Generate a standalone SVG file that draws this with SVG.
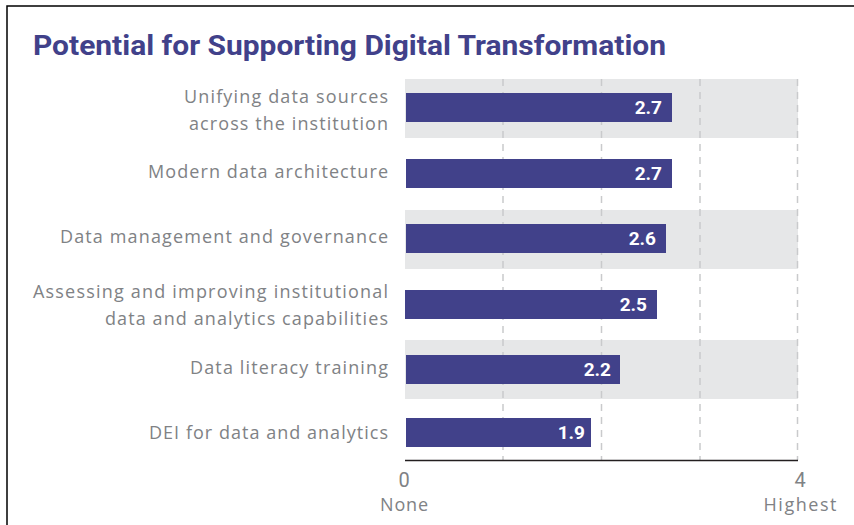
<svg xmlns="http://www.w3.org/2000/svg" width="854" height="525" viewBox="0 0 854 525">
<style>
.lbl{font-family:"Open Sans",Roboto,"Liberation Sans",sans-serif;font-size:18px;fill:#808285;text-anchor:end}
.val{font-family:Roboto,"Liberation Sans",sans-serif;font-size:19px;font-weight:bold;fill:#ffffff;text-anchor:end}
.ax{font-family:"Open Sans",Roboto,"Liberation Sans",sans-serif;font-size:18px;fill:#808285;text-anchor:middle}
.num{font-family:Roboto,"Liberation Sans",sans-serif;font-size:20px}
.band{fill:#e6e7e8}
.bar{fill:#41418a}
.grid{stroke:#c9cacc;stroke-width:1.5;stroke-dasharray:7,6;fill:none}
</style>
<rect width="854" height="525" fill="#ffffff"/>
<rect x="7" y="6" width="860" height="540" fill="none" stroke="#000" stroke-width="1.5"/>
<text x="33" y="55" font-family="Roboto,'Liberation Sans',sans-serif" font-size="28" font-weight="bold" fill="#41418a" textLength="633" lengthAdjust="spacingAndGlyphs">Potential for Supporting Digital Transformation</text>
<g id="bands">
<rect class="band" x="405" y="79" width="393" height="59"/>
<rect class="band" x="405" y="210" width="393" height="59"/>
<rect class="band" x="405" y="340" width="393" height="59"/>
</g>
<g id="connectors">
<line class="grid" x1="503" y1="79" x2="503" y2="460"/>
<line class="grid" x1="601.5" y1="79" x2="601.5" y2="460"/>
<line class="grid" x1="700" y1="79" x2="700" y2="460"/>
<line class="grid" x1="797.5" y1="79" x2="797.5" y2="460"/>
<line x1="405" y1="460.5" x2="798" y2="460.5" stroke="#231f20" stroke-width="1.5"/>
</g>
<g id="row1">
<text class="lbl" x="388" y="103" textLength="204" lengthAdjust="spacing">Unifying data sources</text>
<text class="lbl" x="388" y="130" textLength="199" lengthAdjust="spacing">across the institution</text>
<rect class="bar" x="406" y="93" width="266" height="29"/>
<text class="val" x="662" y="114">2.7</text>
</g>
<g id="row2">
<text class="lbl" x="388" y="178" textLength="240" lengthAdjust="spacing">Modern data architecture</text>
<rect class="bar" x="406" y="159" width="266" height="29"/>
<text class="val" x="662" y="180">2.7</text>
</g>
<g id="row3">
<text class="lbl" x="388" y="243" textLength="328" lengthAdjust="spacing">Data management and governance</text>
<rect class="bar" x="406" y="224" width="260" height="29"/>
<text class="val" x="656" y="245">2.6</text>
</g>
<g id="row4">
<text class="lbl" x="388" y="298" textLength="355" lengthAdjust="spacing">Assessing and improving institutional</text>
<text class="lbl" x="388" y="325" textLength="283" lengthAdjust="spacing">data and analytics capabilities</text>
<rect class="bar" x="405" y="290" width="252" height="29"/>
<text class="val" x="647" y="311">2.5</text>
</g>
<g id="row5">
<text class="lbl" x="388" y="374" textLength="198" lengthAdjust="spacing">Data literacy training</text>
<rect class="bar" x="406" y="355" width="214" height="29"/>
<text class="val" x="611" y="376">2.2</text>
</g>
<g id="row6">
<text class="lbl" x="388" y="439" textLength="239" lengthAdjust="spacing">DEI for data and analytics</text>
<rect class="bar" x="406" y="418" width="185" height="29"/>
<text class="val" x="585" y="439">1.9</text>
</g>
<g id="axis">
<text class="ax num" x="404" y="487">0</text>
<text class="ax" x="404" y="511" textLength="48" lengthAdjust="spacing">None</text>
<text class="ax num" x="800" y="487">4</text>
<text class="ax" x="800" y="511" textLength="73" lengthAdjust="spacing">Highest</text>
</g>
</svg>
